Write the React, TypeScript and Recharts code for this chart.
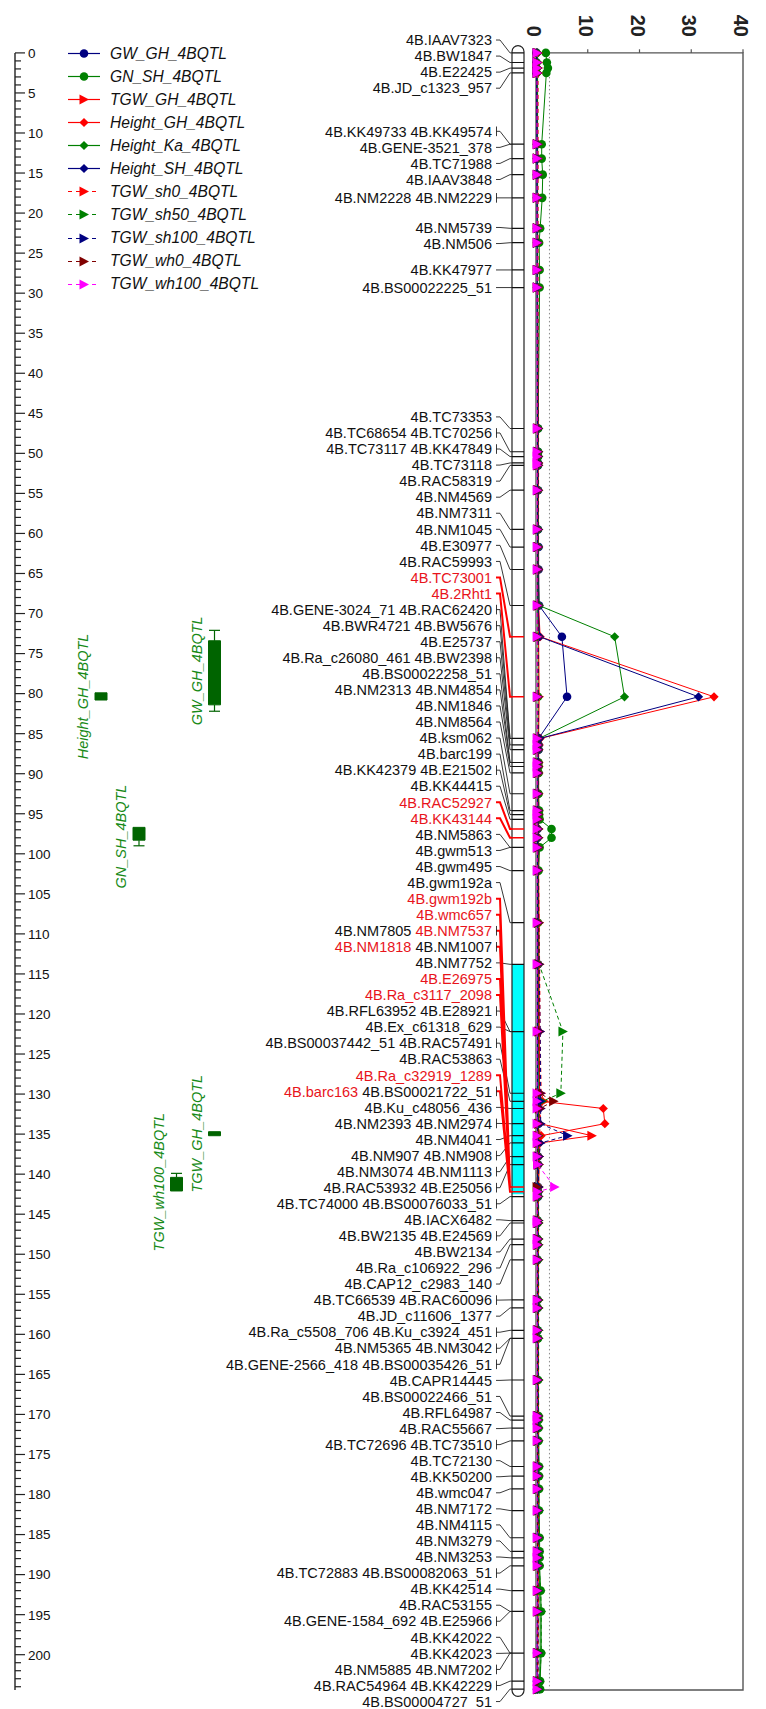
import React from 'react';
import {
  ComposedChart,
  XAxis,
  YAxis,
  Scatter,
  Line,
  ReferenceArea,
  ReferenceLine,
  Legend,
} from 'recharts';

// ---------------- data ----------------

// marker labels as printed beside the linkage group (top to bottom)
const markerLabels = [
  '4B.IAAV7323', '4B.BW1847', '4B.E22425', '4B.JD_c1323_957',
  '4B.KK49733 4B.KK49574', '4B.GENE-3521_378', '4B.TC71988', '4B.IAAV3848',
  '4B.NM2228 4B.NM2229', '4B.NM5739', '4B.NM506', '4B.KK47977', '4B.BS00022225_51',
  '4B.TC73353', '4B.TC68654 4B.TC70256', '4B.TC73117 4B.KK47849', '4B.TC73118',
  '4B.RAC58319', '4B.NM4569', '4B.NM7311', '4B.NM1045', '4B.E30977', '4B.RAC59993',
  '4B.TC73001', '4B.2Rht1', '4B.GENE-3024_71 4B.RAC62420', '4B.BWR4721 4B.BW5676',
  '4B.E25737', '4B.Ra_c26080_461 4B.BW2398', '4B.BS00022258_51', '4B.NM2313 4B.NM4854',
  '4B.NM1846', '4B.NM8564', '4B.ksm062', '4B.barc199', '4B.KK42379 4B.E21502',
  '4B.KK44415', '4B.RAC52927', '4B.KK43144', '4B.NM5863', '4B.gwm513', '4B.gwm495',
  '4B.gwm192a', '4B.gwm192b', '4B.wmc657', '4B.NM7805 4B.NM7537', '4B.NM1818 4B.NM1007',
  '4B.NM7752', '4B.E26975', '4B.Ra_c3117_2098', '4B.RFL63952 4B.E28921', '4B.Ex_c61318_629',
  '4B.BS00037442_51 4B.RAC57491', '4B.RAC53863', '4B.Ra_c32919_1289',
  '4B.barc163 4B.BS00021722_51', '4B.Ku_c48056_436', '4B.NM2393 4B.NM2974', '4B.NM4041',
  '4B.NM907 4B.NM908', '4B.NM3074 4B.NM1113', '4B.RAC53932 4B.E25056',
  '4B.TC74000 4B.BS00076033_51', '4B.IACX6482', '4B.BW2135 4B.E24569', '4B.BW2134',
  '4B.Ra_c106922_296', '4B.CAP12_c2983_140', '4B.TC66539 4B.RAC60096', '4B.JD_c11606_1377',
  '4B.Ra_c5508_706 4B.Ku_c3924_451', '4B.NM5365 4B.NM3042', '4B.GENE-2566_418 4B.BS00035426_51',
  '4B.CAPR14445', '4B.BS00022466_51', '4B.RFL64987', '4B.RAC55667', '4B.TC72696 4B.TC73510',
  '4B.TC72130', '4B.KK50200', '4B.wmc047', '4B.NM7172', '4B.NM4115', '4B.NM3279', '4B.NM3253',
  '4B.TC72883 4B.BS00082063_51', '4B.KK42514', '4B.RAC53155', '4B.GENE-1584_692 4B.E25966',
  '4B.KK42022', '4B.KK42023', '4B.NM5885 4B.NM7202', '4B.RAC54964 4B.KK42229',
  '4B.BS00004727_51',
];

// map position (cM) each label points to
const markerCm = [
  0, 1.2, 1.9, 2.5,
  11.4, 11.4, 13.2, 15.2,
  18.1, 21.9, 23.7, 27.1, 29.3,
  46.9, 49.8, 50.4, 51.2,
  51.5, 54.6, 59.5, 61.7, 64.5, 69.0,
  72.9, 80.4, 85.6, 85.6,
  86.4, 87.0, 88.6, 88.6,
  89.1, 89.9, 92.5, 94.6, 95.1,
  95.7, 96.9, 98.0, 99.2, 99.2, 102.1,
  108.6, 141.6, 141.6, 141.6, 141.6,
  113.8, 141.6, 141.6, 122.2, 122.2,
  129.9, 130.9, 142.2,
  142.2, 131.8, 133.7, 135.2,
  136.1, 137.8, 138.8,
  142.8, 145.8, 146.1, 148.1,
  148.8, 150.7, 155.7, 156.7,
  159.5, 160.5, 160.5,
  165.7, 170.2, 170.7, 171.7, 173.3,
  176.5, 177.7, 179.3, 182.0, 185.4, 187.1, 187.9,
  188.9, 192.0, 194.6, 194.6,
  199.8, 199.8, 199.8, 203.3,
  204.3,
];

const redMarkers = [
  '4B.TC73001', '4B.2Rht1', '4B.RAC52927', '4B.KK43144', '4B.gwm192b', '4B.wmc657',
  '4B.NM7537', '4B.NM1818', '4B.E26975', '4B.Ra_c3117_2098', '4B.Ra_c32919_1289', '4B.barc163',
];

const chromStart = -0.9;
const chromEnd = 205.2;
const cyanStart = 113.8;
const cyanEnd = 142.5;

// QTL intervals (cM)
const qtlNames = ['Height_GH_4BQTL', 'GW_GH_4BQTL', 'GN_SH_4BQTL', 'TGW_wh100_4BQTL', 'TGW_GH_4BQTL'];
const qtlLo = [79.9, 72.1, 96.7, 139.9, 134.7];
const qtlBoxLo = [79.9, 73.4, 96.7, 140.4, 134.7];
const qtlBoxHi = [80.8, 81.4, 98.3, 142.1, 135.2];
const qtlHi = [80.8, 82.2, 99.0, 142.1, 135.2];

// LOD profile positions (cM)
const lodCm = [
  0, 1.2, 1.9, 2.5, 11.4, 13.2, 15.2, 18.1, 21.9, 23.7,
  27.1, 29.3, 46.9, 49.8, 50.4, 51.2, 51.5, 54.6, 59.5, 61.7,
  64.5, 69.0, 72.9, 80.4, 85.6, 86.4, 87.0, 88.6, 89.1, 89.9,
  92.5, 94.6, 95.1, 95.7, 96.9, 98.0, 99.2, 102.1, 108.6, 113.8,
  122.2, 129.9, 130.9, 131.8, 133.7, 135.2, 136.1, 137.8, 138.8, 141.6,
  142.2, 142.8, 145.8, 146.1, 148.1, 148.8, 150.7, 155.7, 156.7, 159.5,
  160.5, 165.7, 170.2, 170.7, 171.7, 173.3, 176.5, 177.7, 179.3, 182.0,
  185.4, 187.1, 187.9, 188.9, 192.0, 194.6, 199.8, 203.3, 204.3,
];

const gwGh = [
  0.1, 0.1, 0.1, 0.1, 0.2, 0.2, 0.2, 0.2, 0.3, 0.3,
  0.3, 0.3, 0.4, 0.4, 0.4, 0.4, 0.4, 0.4, 0.4, 0.5,
  0.5, 0.6, 5.0, 6.0, 0.5, 0.5, 0.5, 0.4, 0.4, 0.4,
  0.4, 0.4, 0.3, 0.3, 0.3, 0.3, 0.3, 0.3, 0.3, 0.4,
  0.4, 0.4, 0.5, 0.5, 0.5, 0.5, 0.5, 0.4, 0.4, 0.4,
  0.4, 0.4, 0.3, 0.3, 0.3, 0.3, 0.3, 0.3, 0.3, 0.3,
  0.3, 0.3, 0.3, 0.3, 0.3, 0.3, 0.3, 0.3, 0.3, 0.3,
  0.3, 0.3, 0.3, 0.3, 0.3, 0.3, 0.2, 0.2, 0.2,
];
const gnSh = [
  1.9, 2.1, 2.3, 2.0, 1.1, 1.1, 1.3, 1.2, 0.8, 0.6,
  0.7, 0.7, 0.4, 0.4, 0.4, 0.3, 0.3, 0.3, 0.3, 0.3,
  0.3, 0.3, 0.4, 0.4, 0.4, 0.4, 0.4, 0.5, 0.5, 0.5,
  0.5, 0.6, 0.6, 0.7, 3.0, 3.0, 0.7, 0.5, 0.4, 0.3,
  0.3, 0.3, 0.3, 0.3, 0.3, 0.3, 0.3, 0.3, 0.3, 0.3,
  0.3, 0.3, 0.3, 0.3, 0.3, 0.3, 0.3, 0.3, 0.3, 0.3,
  0.4, 0.4, 0.5, 0.5, 0.5, 0.5, 0.6, 0.6, 0.6, 0.6,
  0.7, 0.7, 0.7, 0.7, 0.9, 1.0, 1.0, 0.8, 0.8,
];
const tgwGh = [
  0.3, 0.3, 0.3, 0.3, 0.3, 0.3, 0.3, 0.3, 0.3, 0.3,
  0.3, 0.3, 0.4, 0.4, 0.4, 0.4, 0.4, 0.4, 0.4, 0.4,
  0.4, 0.5, 0.5, 0.6, 0.5, 0.5, 0.5, 0.5, 0.5, 0.5,
  0.5, 0.5, 0.5, 0.5, 0.5, 0.5, 0.5, 0.5, 0.6, 0.6,
  0.6, 0.7, 0.7, 0.7, 0.8, 10.8, 0.8, 0.6, 0.6, 0.5,
  0.5, 0.5, 0.4, 0.4, 0.4, 0.4, 0.4, 0.4, 0.4, 0.4,
  0.4, 0.4, 0.4, 0.4, 0.4, 0.4, 0.4, 0.4, 0.4, 0.4,
  0.4, 0.4, 0.4, 0.4, 0.4, 0.4, 0.3, 0.3, 0.3,
];
const heightGh = [
  0.2, 0.2, 0.2, 0.2, 0.3, 0.3, 0.3, 0.3, 0.3, 0.3,
  0.3, 0.3, 0.3, 0.3, 0.3, 0.3, 0.3, 0.4, 0.4, 0.4,
  0.5, 0.5, 0.8, 34.4, 0.8, 0.6, 0.5, 0.5, 0.5, 0.5,
  0.4, 0.4, 0.4, 0.4, 0.4, 0.4, 0.4, 0.4, 0.5, 0.5,
  0.6, 0.7, 0.9, 13.0, 13.3, 1.0, 0.6, 0.5, 0.5, 0.5,
  0.4, 0.4, 0.4, 0.4, 0.4, 0.4, 0.4, 0.4, 0.4, 0.3,
  0.3, 0.3, 0.3, 0.3, 0.3, 0.3, 0.3, 0.3, 0.3, 0.3,
  0.3, 0.3, 0.3, 0.3, 0.3, 0.3, 0.3, 0.3, 0.3,
];
const heightKa = [
  0.3, 0.3, 0.3, 0.3, 0.3, 0.3, 0.3, 0.3, 0.3, 0.3,
  0.3, 0.3, 0.3, 0.3, 0.3, 0.3, 0.3, 0.3, 0.4, 0.4,
  0.4, 0.6, 15.2, 17.1, 0.6, 0.5, 0.5, 0.4, 0.4, 0.4,
  0.4, 0.4, 0.4, 0.4, 0.4, 0.4, 0.4, 0.4, 0.4, 0.4,
  0.4, 0.4, 0.4, 0.4, 0.4, 0.4, 0.4, 0.4, 0.4, 0.4,
  0.4, 0.4, 0.4, 0.4, 0.4, 0.4, 0.4, 0.4, 0.4, 0.4,
  0.4, 0.4, 0.5, 0.5, 0.5, 0.5, 0.5, 0.5, 0.5, 0.5,
  0.6, 0.6, 0.6, 0.6, 0.7, 0.8, 0.8, 0.7, 0.7,
];
const heightSh = [
  0.1, 0.1, 0.1, 0.1, 0.2, 0.2, 0.2, 0.2, 0.2, 0.2,
  0.2, 0.2, 0.3, 0.3, 0.3, 0.3, 0.3, 0.3, 0.3, 0.3,
  0.4, 0.4, 0.7, 31.4, 0.7, 0.5, 0.5, 0.4, 0.4, 0.4,
  0.3, 0.3, 0.3, 0.3, 0.3, 0.3, 0.3, 0.3, 0.3, 0.3,
  0.3, 0.3, 0.3, 0.3, 0.3, 0.3, 0.3, 0.3, 0.3, 0.3,
  0.3, 0.3, 0.3, 0.3, 0.3, 0.3, 0.3, 0.3, 0.3, 0.3,
  0.3, 0.3, 0.3, 0.3, 0.3, 0.3, 0.3, 0.3, 0.3, 0.3,
  0.3, 0.3, 0.3, 0.3, 0.3, 0.3, 0.3, 0.3, 0.3,
];
const tgwSh0 = [
  0.4, 0.4, 0.4, 0.4, 0.4, 0.4, 0.4, 0.4, 0.4, 0.4,
  0.4, 0.4, 0.5, 0.5, 0.5, 0.5, 0.5, 0.5, 0.5, 0.5,
  0.5, 0.5, 0.5, 0.5, 0.5, 0.5, 0.5, 0.5, 0.5, 0.5,
  0.5, 0.5, 0.5, 0.5, 0.5, 0.5, 0.5, 0.5, 0.6, 0.7,
  0.8, 1.0, 1.6, 0.9, 0.8, 0.7, 0.6, 0.6, 0.5, 0.5,
  0.5, 0.5, 0.5, 0.5, 0.5, 0.5, 0.5, 0.5, 0.5, 0.5,
  0.5, 0.5, 0.5, 0.5, 0.5, 0.5, 0.5, 0.5, 0.5, 0.5,
  0.5, 0.5, 0.5, 0.5, 0.5, 0.5, 0.4, 0.4, 0.4,
];
const tgwSh50 = [
  0.3, 0.3, 0.3, 0.3, 0.3, 0.3, 0.3, 0.3, 0.3, 0.3,
  0.3, 0.3, 0.4, 0.4, 0.4, 0.4, 0.4, 0.4, 0.4, 0.4,
  0.4, 0.4, 0.4, 0.4, 0.4, 0.4, 0.4, 0.4, 0.4, 0.4,
  0.4, 0.4, 0.4, 0.4, 0.4, 0.4, 0.4, 0.4, 0.5, 0.6,
  5.2, 4.8, 1.2, 0.6, 0.5, 0.5, 0.5, 0.5, 0.5, 0.5,
  0.5, 0.5, 0.5, 0.5, 0.5, 0.5, 0.5, 0.5, 0.5, 0.5,
  0.5, 0.5, 0.5, 0.5, 0.5, 0.5, 0.5, 0.5, 0.5, 0.6,
  0.6, 0.6, 0.6, 0.6, 0.9, 1.0, 1.0, 0.7, 0.7,
];
const tgwSh100 = [
  0.2, 0.2, 0.2, 0.2, 0.3, 0.3, 0.3, 0.3, 0.3, 0.3,
  0.3, 0.3, 0.4, 0.4, 0.4, 0.4, 0.4, 0.4, 0.4, 0.4,
  0.4, 0.4, 0.4, 0.4, 0.4, 0.4, 0.4, 0.4, 0.4, 0.4,
  0.4, 0.4, 0.4, 0.4, 0.4, 0.4, 0.4, 0.4, 0.5, 0.6,
  0.8, 0.9, 0.9, 0.9, 0.9, 6.1, 0.9, 0.6, 0.5, 0.5,
  0.4, 0.4, 0.4, 0.4, 0.4, 0.4, 0.4, 0.4, 0.4, 0.4,
  0.4, 0.4, 0.4, 0.4, 0.4, 0.4, 0.4, 0.4, 0.4, 0.4,
  0.4, 0.4, 0.4, 0.4, 0.4, 0.4, 0.4, 0.4, 0.4,
];
const tgwWh0 = [
  0.2, 0.2, 0.2, 0.2, 0.2, 0.2, 0.2, 0.2, 0.2, 0.2,
  0.2, 0.2, 0.3, 0.3, 0.3, 0.3, 0.3, 0.3, 0.3, 0.3,
  0.3, 0.3, 0.3, 0.3, 0.3, 0.3, 0.3, 0.3, 0.3, 0.3,
  0.3, 0.3, 0.3, 0.3, 0.3, 0.3, 0.3, 0.3, 0.4, 0.4,
  0.5, 0.7, 3.4, 0.7, 0.5, 0.4, 0.4, 0.3, 0.3, 0.2,
  0.3, 0.3, 0.3, 0.3, 0.3, 0.3, 0.3, 0.3, 0.3, 0.3,
  0.3, 0.3, 0.3, 0.3, 0.3, 0.3, 0.3, 0.3, 0.3, 0.3,
  0.3, 0.3, 0.3, 0.3, 0.3, 0.3, 0.3, 0.3, 0.3,
];
const tgwWh100 = [
  0.2, 0.2, 0.2, 0.2, 0.2, 0.2, 0.2, 0.2, 0.2, 0.2,
  0.2, 0.2, 0.2, 0.2, 0.2, 0.2, 0.2, 0.2, 0.2, 0.2,
  0.2, 0.2, 0.2, 0.2, 0.2, 0.2, 0.2, 0.2, 0.2, 0.2,
  0.2, 0.2, 0.2, 0.2, 0.2, 0.2, 0.2, 0.2, 0.2, 0.2,
  0.2, 0.2, 0.2, 0.2, 0.2, 0.2, 0.2, 0.2, 0.3, 3.6,
  0.3, 0.2, 0.2, 0.2, 0.2, 0.2, 0.2, 0.2, 0.2, 0.2,
  0.2, 0.2, 0.2, 0.2, 0.2, 0.2, 0.2, 0.2, 0.2, 0.2,
  0.2, 0.2, 0.2, 0.2, 0.2, 0.2, 0.2, 0.2, 0.2,
];

const lodThreshold = 2.6;
const lodTicks = [0, 10, 20, 30, 40];
const lodBoxEnd = 204.4;
const rulerTicks = Array.from({ length: 205 }, (_, i) => i);

// ---------------- layout ----------------
const W = 766;
const H = 1709;
const FONT = "'Liberation Sans', Arial, sans-serif";
const Y0 = 52.9; // page row of 0 cM
const PX_PER_CM = 8.009;
const CM_MIN = -Y0 / PX_PER_CM;
const CM_MAX = (H - Y0) / PX_PER_CM;
const LEFT = 15; // ruler line
const LOD_X0 = 536;
const LOD_X40 = 743;
const LOD_PER_PX = 40 / (LOD_X40 - LOD_X0);
const LOD_MIN = -(LOD_X0 - LEFT) * LOD_PER_PX;
const LOD_MAX = 40 + (W - LOD_X40) * LOD_PER_PX;

const LABEL_X = 492;
const LABEL_GAP = 2.005;
const LABEL_LO = -2;
const LABEL_HI = 205.85;
const CHROM_L = 512;
const CHROM_R = 524;
const QTL_COL_X = [101, 139, 176.5, 214.5];
const qtlCol = [0, 3, 1, 2, 3];
const QTL_FILL = '#006400';
const QTL_TXT = '#178a17';
const RED_TXT = '#e8141b';

const NAVY = '#000080';
const GREEN = '#008000';
const RED = '#ff0000';
const DARKRED = '#800000';
const MAGENTA = '#ff00ff';

type Kind = 'circle' | 'diamond' | 'triangle';
const SERIES: { name: string; values: number[]; color: string; shape: Kind; dashed: boolean }[] = [
  { name: 'GW_GH_4BQTL', values: gwGh, color: NAVY, shape: 'circle', dashed: false },
  { name: 'GN_SH_4BQTL', values: gnSh, color: GREEN, shape: 'circle', dashed: false },
  { name: 'TGW_GH_4BQTL', values: tgwGh, color: RED, shape: 'triangle', dashed: false },
  { name: 'Height_GH_4BQTL', values: heightGh, color: RED, shape: 'diamond', dashed: false },
  { name: 'Height_Ka_4BQTL', values: heightKa, color: GREEN, shape: 'diamond', dashed: false },
  { name: 'Height_SH_4BQTL', values: heightSh, color: NAVY, shape: 'diamond', dashed: false },
  { name: 'TGW_sh0_4BQTL', values: tgwSh0, color: RED, shape: 'triangle', dashed: true },
  { name: 'TGW_sh50_4BQTL', values: tgwSh50, color: GREEN, shape: 'triangle', dashed: true },
  { name: 'TGW_sh100_4BQTL', values: tgwSh100, color: NAVY, shape: 'triangle', dashed: true },
  { name: 'TGW_wh0_4BQTL', values: tgwWh0, color: DARKRED, shape: 'triangle', dashed: true },
  { name: 'TGW_wh100_4BQTL', values: tgwWh100, color: MAGENTA, shape: 'triangle', dashed: true },
];

// push overlapping labels apart, centring each crowded group on its markers
function spreadLabels(targets: number[], gap: number, lo: number, hi: number) {
  const groups: { n: number; sum: number; top: number }[] = [];
  const place = (g: { n: number; sum: number; top: number }) => {
    g.top = g.sum / g.n - ((g.n - 1) * gap) / 2;
    g.top = Math.min(g.top, hi - (g.n - 1) * gap);
    g.top = Math.max(g.top, lo);
  };
  targets.forEach((t) => {
    const g = { n: 1, sum: t, top: t };
    place(g);
    groups.push(g);
    while (groups.length > 1) {
      const b = groups[groups.length - 1];
      const a = groups[groups.length - 2];
      if (a.top + a.n * gap <= b.top + 1e-6) break;
      groups.pop();
      a.n += b.n;
      a.sum += b.sum;
      place(a);
    }
  });
  const out: number[] = [];
  groups.forEach((g) => {
    for (let k = 0; k < g.n; k++) out.push(g.top + k * gap);
  });
  return out;
}

const labelCm = spreadLabels(markerCm, LABEL_GAP, LABEL_LO, LABEL_HI);
const isRedRow = (i: number) => markerLabels[i].split(' ').some((n) => redMarkers.includes(n));

const labelData = markerLabels.map((text, i) => ({ px: LABEL_X, cm: labelCm[i], text }));

const connector = (red: boolean) =>
  markerLabels.flatMap((_, i) =>
    isRedRow(i) !== red
      ? []
      : [
          { px: 496, cm: labelCm[i] },
          { px: 500, cm: labelCm[i] },
          { px: 510, cm: markerCm[i] },
          { px: CHROM_L, cm: markerCm[i] },
          { px: null, cm: null },
        ]
  );

const bracketData = markerLabels.flatMap((t, i) =>
  t.includes(' ')
    ? [
        { px: 496.5, cm: labelCm[i] - 0.6 },
        { px: 496.5, cm: labelCm[i] + 0.6 },
        { px: null, cm: null },
      ]
    : []
);

const markerLines = (red: boolean) => {
  const seen = new Set<number>();
  const pts: { px: number | null; cm: number | null }[] = [];
  markerCm.forEach((c, i) => {
    if (isRedRow(i) !== red || seen.has(c)) return;
    seen.add(c);
    pts.push({ px: CHROM_L, cm: c }, { px: CHROM_R, cm: c }, { px: null, cm: null });
  });
  return pts;
};

const seriesData = SERIES.map((s) => s.values.map((v, i) => ({ lod: v, cm: lodCm[i] })));
const lodTickData = lodTicks.map((t) => ({ lod: t, cm: -2.0 }));
const qtlLabelData = qtlNames.map((name, i) => ({
  px: QTL_COL_X[qtlCol[i]] - 12.5,
  cm: (qtlLo[i] + qtlHi[i]) / 2,
  name,
}));

// ---------------- drawing helpers ----------------
const Glyph = ({ kind, cx, cy, color }: { kind: Kind; cx: number; cy: number; color: string }) => {
  if (kind === 'circle') return <circle cx={cx} cy={cy} r={4.3} fill={color} />;
  if (kind === 'diamond')
    return (
      <polygon
        points={`${cx},${cy - 4.6} ${cx + 4.6},${cy} ${cx},${cy + 4.6} ${cx - 4.6},${cy}`}
        fill={color}
      />
    );
  return <polygon points={`${cx - 4.5},${cy - 5} ${cx + 5},${cy} ${cx - 4.5},${cy + 5}`} fill={color} />;
};

const MarkerLabel = (p: any) => {
  const parts: string[] = p.payload.text.split(' ');
  return (
    <text x={p.cx} y={p.cy} dy="0.36em" textAnchor="end" fontFamily={FONT} fontSize={14.5}>
      {parts.map((t, k) => (
        <tspan key={k} fill={redMarkers.includes(t) ? RED_TXT : '#111'}>
          {(k ? ' ' : '') + t}
        </tspan>
      ))}
    </text>
  );
};

const RulerTick = (p: any) => {
  const v = p.payload.value;
  const major = v % 5 === 0;
  return (
    <g>
      <line x1={p.x} x2={p.x + (major ? 10 : 6)} y1={p.y} y2={p.y} stroke="#222" strokeWidth={1.2} />
      {major && (
        <text x={p.x + 13} y={p.y} dy="0.36em" fontSize={13.5} fontFamily={FONT} fill="#111">
          {v}
        </text>
      )}
    </g>
  );
};

const LodTickLabel = (p: any) => (
  <text
    x={p.cx}
    y={p.cy}
    transform={`rotate(90 ${p.cx} ${p.cy})`}
    textAnchor="end"
    dy="0.45em"
    fontSize={20}
    fontWeight="bold"
    fontFamily={FONT}
    fill="#222"
  >
    {p.payload.lod}
  </text>
);

const QtlLabel = (p: any) => (
  <text
    x={p.cx}
    y={p.cy}
    transform={`rotate(-90 ${p.cx} ${p.cy})`}
    textAnchor="middle"
    fontSize={14.5}
    fontStyle="italic"
    fontFamily={FONT}
    fill={QTL_TXT}
  >
    {p.payload.name}
  </text>
);

const LegendBox = () => (
  <div style={{ fontFamily: FONT, fontStyle: 'italic', fontSize: 15.6 }}>
    {SERIES.map((s) => (
      <div key={s.name} style={{ display: 'flex', alignItems: 'center', height: 23.07 }}>
        <svg width={48} height={23} style={{ flex: 'none' }}>
          <line
            x1={6}
            x2={38}
            y1={11.5}
            y2={11.5}
            stroke={s.color}
            strokeWidth={1.2}
            strokeDasharray={s.dashed ? '4 4' : undefined}
          />
          <Glyph kind={s.shape} cx={22} cy={11.5} color={s.color} />
        </svg>
        <span style={{ color: '#111', whiteSpace: 'nowrap' }}>{s.name}</span>
      </div>
    ))}
  </div>
);

const roundRect = (fill: string, stroke: string) => (p: any) => (
  <rect x={p.x} y={p.y} width={p.width} height={p.height} rx={6} ry={6} fill={fill} stroke={stroke} strokeWidth={1.2} />
);

export default function App() {
  return (
    <div style={{ position: 'absolute', left: 0, top: 0, width: W, height: H, background: '#fff' }}>
      <ComposedChart width={W} height={H} margin={{ top: 0, right: 0, bottom: 0, left: LEFT }}>
        <XAxis xAxisId="px" type="number" dataKey="px" domain={[LEFT, W]} hide allowDataOverflow />
        <XAxis xAxisId="lod" type="number" dataKey="lod" domain={[LOD_MIN, LOD_MAX]} hide allowDataOverflow />
        <YAxis
          yAxisId="cm"
          type="number"
          dataKey="cm"
          domain={[CM_MIN, CM_MAX]}
          reversed
          mirror
          width={1}
          allowDataOverflow
          axisLine={false}
          tickLine={false}
          tickSize={0}
          tickMargin={0}
          ticks={rulerTicks}
          interval={0}
          tick={(p: any) => <RulerTick {...p} />}
        />

        {/* ruler line */}
        <ReferenceLine
          xAxisId="px"
          yAxisId="cm"
          segment={[{ x: LEFT, y: 0 }, { x: LEFT, y: lodBoxEnd }]}
          stroke="#222"
          strokeWidth={1.4}
        />

        {/* LOD frame, ticks and threshold */}
        <ReferenceArea
          xAxisId="lod"
          yAxisId="cm"
          x1={0}
          x2={40}
          y1={0}
          y2={lodBoxEnd}
          fill="none"
          fillOpacity={0}
          stroke="#555"
          strokeWidth={1.4}
        />
        {lodTicks.map((t) => (
          <ReferenceLine
            key={`lt${t}`}
            xAxisId="lod"
            yAxisId="cm"
            segment={[{ x: t, y: 0 }, { x: t, y: -0.45 }]}
            stroke="#555"
            strokeWidth={1.2}
          />
        ))}
        <ReferenceLine
          xAxisId="lod"
          yAxisId="cm"
          segment={[{ x: lodThreshold, y: 0 }, { x: lodThreshold, y: lodBoxEnd }]}
          stroke="#8a8a8a"
          strokeWidth={1}
          strokeDasharray="1.5 2.5"
        />

        {/* chromosome */}
        <ReferenceArea
          xAxisId="px"
          yAxisId="cm"
          x1={CHROM_L}
          x2={CHROM_R}
          y1={chromStart}
          y2={chromEnd}
          shape={roundRect('#fff', 'none')}
        />
        <ReferenceArea
          xAxisId="px"
          yAxisId="cm"
          x1={CHROM_L}
          x2={CHROM_R}
          y1={cyanStart}
          y2={cyanEnd}
          fill="#00ffff"
          fillOpacity={1}
          stroke="none"
        />
        <ReferenceArea
          xAxisId="px"
          yAxisId="cm"
          x1={CHROM_L}
          x2={CHROM_R}
          y1={chromStart}
          y2={chromEnd}
          shape={roundRect('none', '#222')}
        />

        {/* QTL boxes */}
        {qtlNames.map((n, i) => {
          const cx = QTL_COL_X[qtlCol[i]];
          return (
            <ReferenceArea
              key={`qb${n}`}
              xAxisId="px"
              yAxisId="cm"
              x1={cx - 6}
              x2={cx + 6}
              y1={qtlBoxLo[i]}
              y2={qtlBoxHi[i]}
              fill={QTL_FILL}
              fillOpacity={1}
              stroke={QTL_FILL}
            />
          );
        })}
        {qtlNames.flatMap((n, i) => {
          const cx = QTL_COL_X[qtlCol[i]];
          const out: React.ReactNode[] = [];
          if (qtlLo[i] < qtlBoxLo[i]) {
            out.push(
              <ReferenceLine key={`qw1${n}`} xAxisId="px" yAxisId="cm" segment={[{ x: cx, y: qtlLo[i] }, { x: cx, y: qtlBoxLo[i] }]} stroke={QTL_FILL} strokeWidth={1.2} />,
              <ReferenceLine key={`qc1${n}`} xAxisId="px" yAxisId="cm" segment={[{ x: cx - 5.5, y: qtlLo[i] }, { x: cx + 5.5, y: qtlLo[i] }]} stroke={QTL_FILL} strokeWidth={1.2} />
            );
          }
          if (qtlHi[i] > qtlBoxHi[i]) {
            out.push(
              <ReferenceLine key={`qw2${n}`} xAxisId="px" yAxisId="cm" segment={[{ x: cx, y: qtlBoxHi[i] }, { x: cx, y: qtlHi[i] }]} stroke={QTL_FILL} strokeWidth={1.2} />,
              <ReferenceLine key={`qc2${n}`} xAxisId="px" yAxisId="cm" segment={[{ x: cx - 5.5, y: qtlHi[i] }, { x: cx + 5.5, y: qtlHi[i] }]} stroke={QTL_FILL} strokeWidth={1.2} />
            );
          }
          return out;
        })}

        {/* marker lines across the chromosome and label connectors */}
        <Line xAxisId="px" yAxisId="cm" data={markerLines(false)} dataKey="cm" stroke="#111" strokeWidth={1.2} dot={false} activeDot={false} connectNulls={false} isAnimationActive={false} legendType="none" />
        <Line xAxisId="px" yAxisId="cm" data={markerLines(true)} dataKey="cm" stroke="#ff0000" strokeWidth={1.6} dot={false} activeDot={false} connectNulls={false} isAnimationActive={false} legendType="none" />
        <Line xAxisId="px" yAxisId="cm" data={connector(false)} dataKey="cm" stroke="#222" strokeWidth={0.9} dot={false} activeDot={false} connectNulls={false} isAnimationActive={false} legendType="none" />
        <Line xAxisId="px" yAxisId="cm" data={connector(true)} dataKey="cm" stroke="#ff0000" strokeWidth={2} dot={false} activeDot={false} connectNulls={false} isAnimationActive={false} legendType="none" />
        <Line xAxisId="px" yAxisId="cm" data={bracketData} dataKey="cm" stroke="#222" strokeWidth={0.9} dot={false} activeDot={false} connectNulls={false} isAnimationActive={false} legendType="none" />

        {/* texts */}
        <Scatter xAxisId="px" yAxisId="cm" data={labelData} shape={(p: any) => <MarkerLabel {...p} />} isAnimationActive={false} legendType="none" />
        <Scatter xAxisId="px" yAxisId="cm" data={qtlLabelData} shape={(p: any) => <QtlLabel {...p} />} isAnimationActive={false} legendType="none" />
        <Scatter xAxisId="lod" yAxisId="cm" data={lodTickData} shape={(p: any) => <LodTickLabel {...p} />} isAnimationActive={false} legendType="none" />

        {/* LOD profiles */}
        {SERIES.map((s, k) => (
          <Scatter
            key={s.name}
            name={s.name}
            xAxisId="lod"
            yAxisId="cm"
            data={seriesData[k]}
            line={{ stroke: s.color, strokeWidth: 1, strokeDasharray: s.dashed ? '4 3' : undefined }}
            lineType="joint"
            shape={(p: any) => <Glyph kind={s.shape} cx={p.cx} cy={p.cy} color={s.color} />}
            isAnimationActive={false}
          />
        ))}

        <Legend
          layout="vertical"
          align="center"
          verticalAlign="middle"
          wrapperStyle={{ left: 62, top: 42, width: 240 }}
          content={() => <LegendBox />}
        />
      </ComposedChart>
    </div>
  );
}
